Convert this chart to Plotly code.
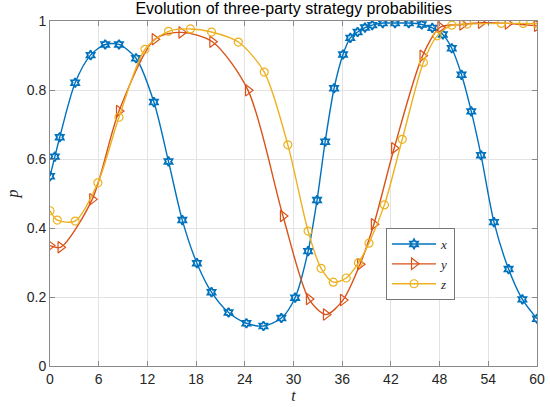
import plotly.graph_objects as go

# values (marker positions)
t_x = [0, 0.6, 1.2, 3.1, 5.0, 6.8, 8.5, 10.6, 12.8, 14.6, 16.3, 18.1, 19.9, 22.0, 24.2,
       26.3, 28.5, 30.2, 31.8, 32.9, 33.9, 35.0, 36.1, 37.0, 37.9, 38.8, 39.7, 41.0,
       42.5, 44.2, 45.8, 47.1, 48.4, 49.5, 50.7, 51.9, 53.1, 54.7, 56.5, 58.2, 60.0]
p_x = [0.55, 0.607, 0.663, 0.821, 0.901, 0.932, 0.932, 0.892, 0.765, 0.593, 0.423, 0.298,
       0.214, 0.155, 0.124, 0.116, 0.139, 0.198, 0.333, 0.481, 0.650, 0.805, 0.903, 0.951,
       0.968, 0.981, 0.988, 0.994, 0.994, 0.994, 0.990, 0.980, 0.961, 0.921, 0.844, 0.738,
       0.611, 0.417, 0.281, 0.193, 0.137]

t_y = [0, 1.3, 5.2, 8.5, 12.9, 16.2, 20.0, 24.4, 28.7, 31.9, 34.0, 36.1, 38.2, 39.9,
       42.4, 45.9, 48.1, 50.8, 53.1, 56.4, 60.0]
p_y = [0.349, 0.344, 0.483, 0.739, 0.947, 0.967, 0.940, 0.799, 0.435, 0.194, 0.149, 0.191,
       0.295, 0.411, 0.631, 0.899, 0.982, 0.990, 0.995, 0.993, 0.986]

t_z = [0, 0.9, 3.1, 5.9, 8.5, 11.7, 14.6, 17.3, 19.9, 23.2, 26.4, 29.3, 31.8, 33.4, 34.9,
       36.5, 38.0, 39.3, 41.2, 43.4, 46.0, 47.7, 49.5, 51.4, 55.6, 58.3, 60.0]
p_z = [0.450, 0.423, 0.420, 0.531, 0.721, 0.918, 0.970, 0.977, 0.968, 0.939, 0.852, 0.641,
       0.391, 0.283, 0.243, 0.255, 0.299, 0.356, 0.467, 0.657, 0.880, 0.957, 0.988, 0.991,
       0.993, 0.993, 0.992]

x_ticks = [0, 6, 12, 18, 24, 30, 36, 42, 48, 54, 60]
y_ticks = [0, 0.2, 0.4, 0.6, 0.8, 1]
y_tick_text = ['0', '0.2', '0.4', '0.6', '0.8', '1']

BLUE = '#0072BD'
RED = '#D95319'
YELLOW = '#EDB120'

fig = go.Figure()

fig.add_trace(go.Scatter(
    x=t_x, y=p_x, name='<i>x</i>', mode='lines+markers',
    line=dict(color=BLUE, width=1.4, shape='spline', smoothing=0.8),
    marker=dict(symbol='hexagram-open', size=7, color=BLUE, line=dict(width=1.8, color=BLUE))
))
fig.add_trace(go.Scatter(
    x=t_y, y=p_y, name='<i>y</i>', mode='lines+markers',
    line=dict(color=RED, width=1.4, shape='spline', smoothing=0.8),
    marker=dict(symbol='triangle-right-open', size=10, color=RED, line=dict(width=1.2, color=RED))
))
fig.add_trace(go.Scatter(
    x=t_z, y=p_z, name='<i>z</i>', mode='lines+markers',
    line=dict(color=YELLOW, width=1.4, shape='spline', smoothing=0.8),
    marker=dict(symbol='circle-open', size=8, color=YELLOW, line=dict(width=1.2, color=YELLOW))
))

axis_common = dict(
    showgrid=True, gridcolor='#e3e3e3', gridwidth=1,
    showline=True, linecolor='#8a8a8a', linewidth=1, mirror='ticks',
    ticks='inside', ticklen=5, tickcolor='#8a8a8a',
    zeroline=False, automargin=False,
    tickfont=dict(family='Liberation Sans, Arial', size=14, color='#262626'),
)

fig.update_xaxes(
    range=[0, 60], tickvals=x_ticks, **axis_common,
    title=dict(text='<i>t</i>', font=dict(family='Liberation Serif, serif', size=16, color='#262626'),
               standoff=2)
)
fig.update_yaxes(
    range=[0, 1], tickvals=y_ticks, ticktext=y_tick_text, **axis_common,
    title=dict(text='<i>p</i>', font=dict(family='Liberation Serif, serif', size=16, color='#262626'),
               standoff=4)
)

fig.update_layout(
    width=550, height=407,
    margin=dict(l=50, r=13, t=21, b=41),
    paper_bgcolor='white', plot_bgcolor='white',
    title=dict(text='Evolution of three-party strategy probabilities',
               x=0.534, xanchor='center', y=0.992, yanchor='top',
               font=dict(family='Liberation Sans, Arial', size=16, color='#000000')),
    legend=dict(x=0.69, y=0.40, xanchor='left', yanchor='top',
                bgcolor='white', bordercolor='#777777', borderwidth=1,
                font=dict(family='Liberation Serif, serif', size=13, color='#262626'),
                tracegroupgap=0, itemwidth=44),
    showlegend=True,
)

# drop the default page margin so the figure sits at the window's corner
fig.write_html("out.html", config={'displayModeBar': False},
               post_script="document.body.style.margin='0';")
